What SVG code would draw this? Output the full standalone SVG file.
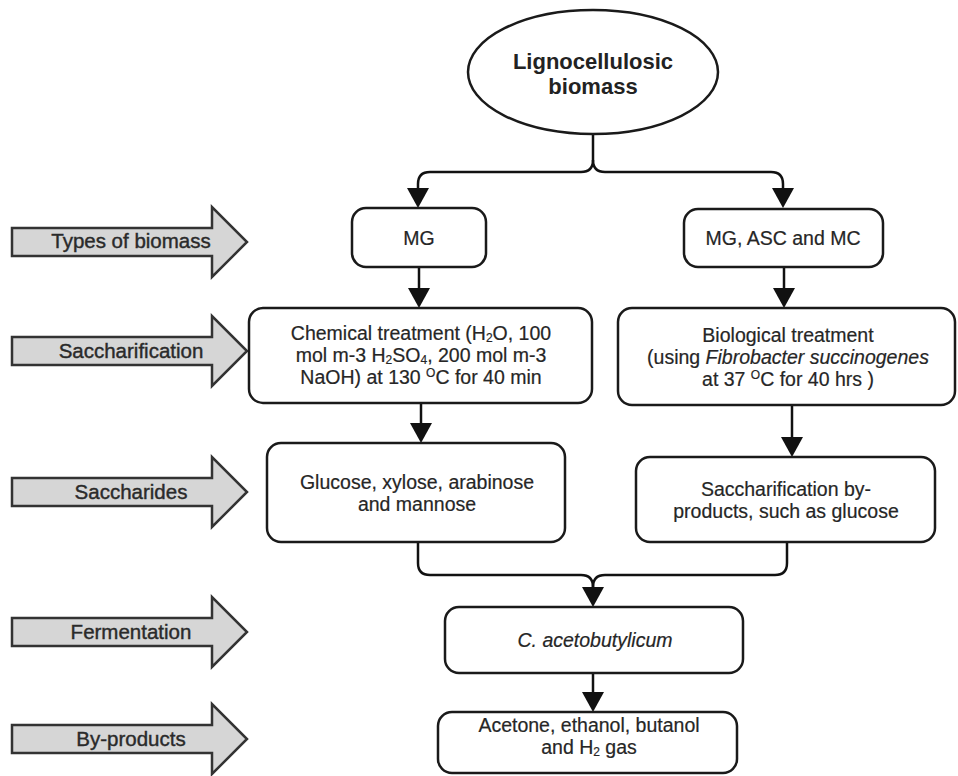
<svg xmlns="http://www.w3.org/2000/svg" width="958" height="776" viewBox="0 0 958 776">
<style>
.bg{fill:#ffffff}
.box{fill:#ffffff;stroke:#1a1a1a;stroke-width:2.5}
.lab{fill:#d6d6d6;stroke:#333333;stroke-width:2.5;stroke-linejoin:miter}
.t{font-family:"Liberation Sans",Arial,sans-serif;font-size:19.5px;fill:#262626;stroke:#262626;stroke-width:0.2;text-anchor:middle}
.lt{font-family:"Liberation Sans",Arial,sans-serif;font-size:20.5px;fill:#2a2a2a;stroke:#2a2a2a;stroke-width:0.4;text-anchor:middle}
.et{font-family:"Liberation Sans",Arial,sans-serif;font-size:22px;font-weight:bold;fill:#222222;text-anchor:middle}
.c{fill:none;stroke:#111111;stroke-width:2.5}
</style>
<defs>
<marker id="ah" viewBox="0 0 20 22" markerWidth="20" markerHeight="22" refX="16" refY="11" orient="auto" markerUnits="userSpaceOnUse">
<path d="M0,0 L20,11 L0,22 Z" fill="#111111"/>
</marker>
</defs>
<rect class="bg" x="0" y="0" width="958" height="776"/>

<g id="labels">
<g id="label-types"><path class="lab" d="M12,228 L212,228 L212,207 L247,242 L212,277 L212,256 L12,256 Z"/><text class="lt" x="131" y="248">Types of biomass</text></g>
<g id="label-sacch"><path class="lab" d="M12,337 L212,337 L212,316 L247,351 L212,386 L212,365 L12,365 Z"/><text class="lt" x="131" y="358">Saccharification</text></g>
<g id="label-saccharides"><path class="lab" d="M12,478 L212,478 L212,457 L247,492 L212,527 L212,506 L12,506 Z"/><text class="lt" x="131" y="499">Saccharides</text></g>
<g id="label-ferm"><path class="lab" d="M12,618 L212,618 L212,597 L247,632 L212,667 L212,646 L12,646 Z"/><text class="lt" x="131" y="639">Fermentation</text></g>
<g id="label-byprod"><path class="lab" d="M12,725 L212,725 L212,704 L247,739 L212,774 L212,753 L12,753 Z"/><text class="lt" x="131" y="746">By-products</text></g>
</g>

<g id="connectors">
<path class="c" d="M593,133 L593,160"/>
<path class="c" d="M593,160 Q593,172 581,172 L430,172 Q418,172 418,184 L418,204" marker-end="url(#ah)"/>
<path class="c" d="M593,160 Q593,172 605,172 L771,172 Q783,172 783,184 L783,204" marker-end="url(#ah)"/>
<path class="c" d="M419,267 L419,304" marker-end="url(#ah)"/>
<path class="c" d="M784,267 L784,304" marker-end="url(#ah)"/>
<path class="c" d="M421,403 L421,439" marker-end="url(#ah)"/>
<path class="c" d="M792,405 L792,453" marker-end="url(#ah)"/>
<path class="c" d="M418,542 L418,563 Q418,575 430,575 L581,575 Q593,575 593,587 L593,603" marker-end="url(#ah)"/>
<path class="c" d="M787,542 L787,563 Q787,575 775,575 L605,575 Q593,575 593,587"/>
<path class="c" d="M593,673 L593,708" marker-end="url(#ah)"/>
</g>

<g id="node-biomass">
<ellipse class="box" cx="593" cy="72" rx="125" ry="62"/>
<text class="et" x="593" y="69">Lignocellulosic</text>
<text class="et" x="593" y="94">biomass</text>
</g>

<g id="node-mg">
<rect class="box" x="352" y="208" width="134" height="59" rx="14"/>
<text class="t" x="419" y="245">MG</text>
</g>

<g id="node-mgascmc">
<rect class="box" x="684" y="209" width="199" height="58" rx="14"/>
<text class="t" x="783" y="245">MG, ASC and MC</text>
</g>

<g id="node-chem">
<rect class="box" x="249" y="308" width="343" height="95" rx="14"/>
<text class="t" x="421" y="340">Chemical treatment (H<tspan font-size="12" dy="2">2</tspan><tspan dy="-2">O, 100</tspan></text>
<text class="t" x="421" y="362">mol m-3 H<tspan font-size="12" dy="2">2</tspan><tspan dy="-2">SO</tspan><tspan font-size="12" dy="2">4</tspan><tspan dy="-2">, 200 mol m-3</tspan></text>
<text class="t" x="421" y="384">NaOH) at 130 <tspan font-size="12" dy="-7">O</tspan><tspan dy="7">C for 40 min</tspan></text>
</g>

<g id="node-bio">
<rect class="box" x="618" y="308" width="337" height="97" rx="14"/>
<text class="t" x="788" y="342">Biological treatment</text>
<text class="t" x="788" y="364">(using <tspan font-style="italic">Fibrobacter succinogenes</tspan></text>
<text class="t" x="788" y="386">at 37 <tspan font-size="12" dy="-7">O</tspan><tspan dy="7">C for 40 hrs )</tspan></text>
</g>

<g id="node-glucose">
<rect class="box" x="267" y="443" width="298" height="99" rx="14"/>
<text class="t" x="417" y="489">Glucose, xylose, arabinose</text>
<text class="t" x="417" y="511">and mannose</text>
</g>

<g id="node-sacchbp">
<rect class="box" x="636" y="457" width="299" height="85" rx="14"/>
<text class="t" x="786" y="496">Saccharification by-</text>
<text class="t" x="786" y="518">products, such as glucose</text>
</g>

<g id="node-caceto">
<rect class="box" x="445" y="607" width="298" height="66" rx="14"/>
<text class="t" x="595" y="647" font-style="italic">C. acetobutylicum</text>
</g>

<g id="node-acetone">
<rect class="box" x="438" y="712" width="299" height="61" rx="14"/>
<text class="t" x="589" y="732">Acetone, ethanol, butanol</text>
<text class="t" x="589" y="754">and H<tspan font-size="12" dy="2">2</tspan><tspan dy="-2"> gas</tspan></text>
</g>
</svg>
